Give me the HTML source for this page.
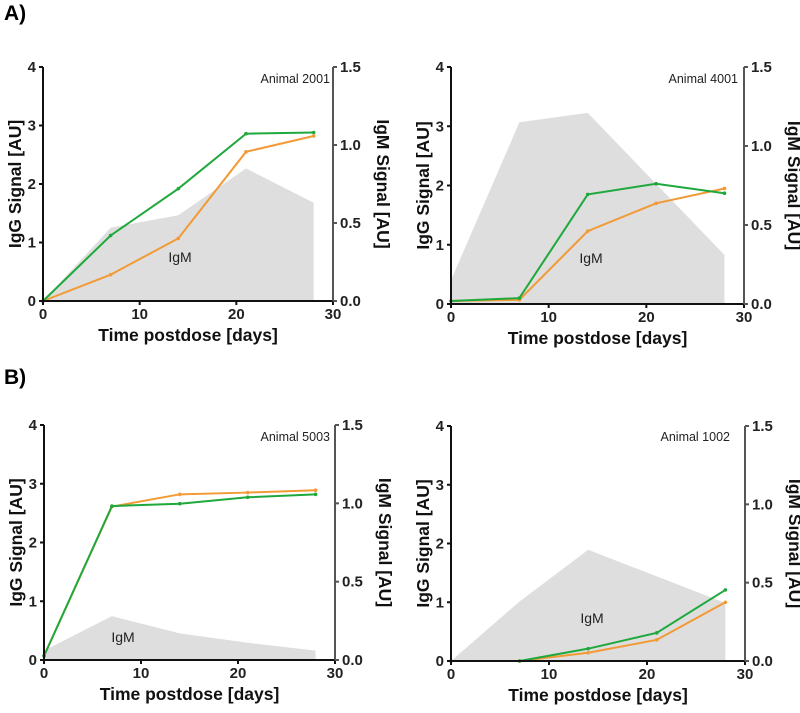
<!DOCTYPE html>
<html><head><meta charset="utf-8"><style>
body{margin:0;background:#fff;width:800px;height:708px;overflow:hidden}
svg{font-family:"Liberation Sans",Arial,sans-serif}
.tick{font-size:15px;font-weight:bold;fill:#222}
.ttl{font-size:17.5px;font-weight:bold;fill:#111}
</style></head><body>
<svg id="c" width="800" height="708">
<text x="4" y="20" font-size="21" font-weight="bold">A)</text>
<text x="4" y="384" font-size="21" font-weight="bold">B)</text>
</svg>
<script>
const days = [0, 7, 14, 21, 28];
const xTicks = [0, 10, 20, 30];
const yLeftTicks = [0, 1, 2, 3, 4];
const yRightTicks = ["0.0", "0.5", "1.0", "1.5"];
const animals = ["Animal 2001", "Animal 4001", "Animal 5003", "Animal 1002"];
const greenSeries = [
  [0, 1.12, 1.92, 2.86, 2.88],
  [0.05, 0.1, 1.85, 2.03, 1.87],
  [0.07, 2.62, 2.66, 2.77, 2.82],
  [0, 0, 0.21, 0.48, 1.21]
];
const orangeSeries = [
  [0, 0.45, 1.07, 2.55, 2.82],
  [0.05, 0.07, 1.23, 1.70, 1.95],
  [0.07, 2.61, 2.82, 2.85, 2.89],
  [0, 0, 0.14, 0.36, 1.0]
];
const igmSeries = [
  [0, 0.47, 0.55, 0.85, 0.63],
  [0.15, 1.15, 1.21, 0.76, 0.31],
  [0.06, 0.28, 0.17, 0.11, 0.06],
  [0, 0.38, 0.71, 0.54, 0.37]
];
const frames = [
  {x0:43,x1:333,y0:301,y1:67,igmX:180,igmY:262,animX:330,animY:83},
  {x0:451,x1:744,y0:304,y1:67,igmX:591,igmY:263,animX:738,animY:83},
  {x0:44,x1:335,y0:660,y1:425,igmX:123,igmY:642,animX:330,animY:441},
  {x0:451,x1:745,y0:661,y1:426,igmX:592,igmY:623,animX:730,animY:441}
];
const NS="http://www.w3.org/2000/svg";
const svg=document.getElementById('c');
function mk(tag,attrs,parent){const e=document.createElementNS(NS,tag);for(const k in attrs)e.setAttribute(k,attrs[k]);(parent||svg).appendChild(e);return e;}
frames.forEach((f,i)=>{
  const g=mk('g',{});
  
  
  const X=d=>f.x0+(f.x1-f.x0)*d/30;
  const YL=v=>f.y0+(f.y1-f.y0)*v/4;
  const YR=v=>f.y0+(f.y1-f.y0)*v/1.5;
  let p='M'+X(days[0])+','+f.y0;
  days.forEach((d,j)=>p+=' L'+X(d)+','+YR(igmSeries[i][j]));
  p+=' L'+X(days[days.length-1])+','+f.y0+' Z';
  const a=mk('path',{d:p,fill:'#dedede'},g);
  
  
  const it=mk('text',{x:f.igmX,y:f.igmY,'font-size':14,'text-anchor':'middle',fill:'#222'},g);it.textContent='IgM';
  
  
  [[orangeSeries,'#f29a36','orange-igg-line'],[greenSeries,'#1fa83c','green-igg-line']].forEach(([s,col,nm])=>{
    const pts=days.map((d,j)=>X(d)+','+YL(s[i][j])).join(' ');
    const l=mk('polyline',{points:pts,fill:'none',stroke:col,'stroke-width':2},g);
    
    
    days.forEach((d,j)=>{const c=mk('circle',{cx:X(d),cy:YL(s[i][j]),r:1.8,fill:col},g);
      
      });
  });
  mk('line',{x1:f.x0,y1:f.y0,x2:f.x1,y2:f.y0,stroke:'#111','stroke-width':2},g);
  mk('line',{x1:f.x0,y1:f.y0,x2:f.x0,y2:f.y1,stroke:'#111','stroke-width':2},g);
  mk('line',{x1:f.x1,y1:f.y0,x2:f.x1,y2:f.y1,stroke:'#555','stroke-width':2},g);
  xTicks.forEach(t=>{mk('line',{x1:X(t),y1:f.y0,x2:X(t),y2:f.y0+4,stroke:'#111','stroke-width':2},g);
    const tx=mk('text',{x:X(t),y:f.y0+18,class:'tick','text-anchor':'middle'},g);tx.textContent=t;
    
    });
  yLeftTicks.forEach(t=>{mk('line',{x1:f.x0-4,y1:YL(t),x2:f.x0,y2:YL(t),stroke:'#111','stroke-width':2},g);
    const tx=mk('text',{x:f.x0-7,y:YL(t)+5,class:'tick','text-anchor':'end'},g);tx.textContent=t;
    
    });
  yRightTicks.forEach(t=>{const y=YR(parseFloat(t));mk('line',{x1:f.x1,y1:y,x2:f.x1+4,y2:y,stroke:'#555','stroke-width':2},g);
    const tx=mk('text',{x:f.x1+7,y:y+5,class:'tick'},g);tx.textContent=t;
    
    });
  const xt=mk('text',{x:(f.x0+f.x1)/2,y:f.y0+40,class:'ttl','text-anchor':'middle'},g);xt.textContent='Time postdose [days]';
  
  
  const ym=(f.y0+f.y1)/2;
  const yl=mk('text',{x:0,y:0,class:'ttl','text-anchor':'middle',transform:`translate(${f.x0-22},${ym}) rotate(-90)`},g);yl.textContent='IgG Signal [AU]';
  
  
  const yr=mk('text',{x:0,y:0,class:'ttl','text-anchor':'middle',transform:`translate(${f.x1+44},${ym}) rotate(90)`},g);yr.textContent='IgM Signal [AU]';
  
  
  const an=mk('text',{x:f.animX,y:f.animY,'font-size':12.5,'text-anchor':'end',fill:'#222'},g);an.textContent=animals[i];
  
  
});
</script>
</body></html>
